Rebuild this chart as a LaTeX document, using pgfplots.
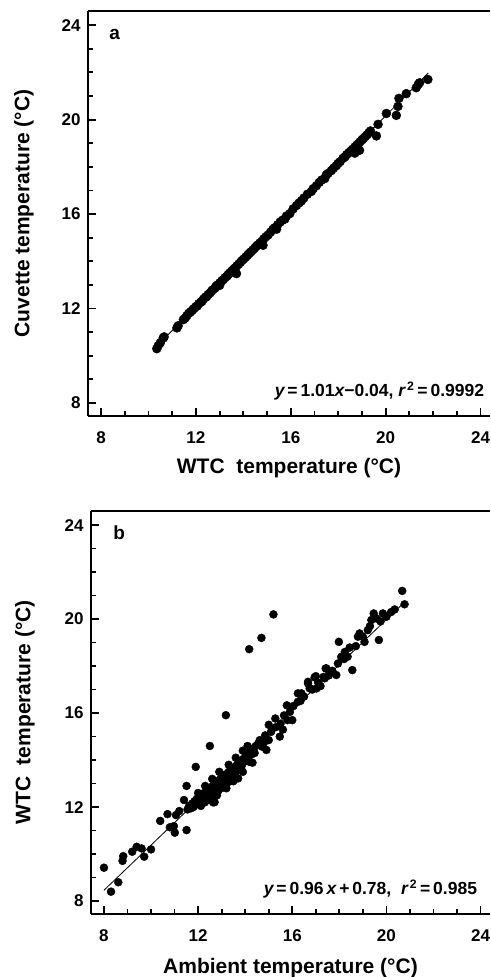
\documentclass[border=0pt]{standalone}
\usepackage{pgfplots}
\pgfplotsset{compat=1.18}
\usepackage{fontspec}
\setmainfont{Liberation Sans}

\pgfplotstableread{
x y
10.35 10.30
10.41 10.42
10.50 10.55
10.62 10.75
10.66 10.80
11.20 11.18
11.25 11.27
11.47 11.53
11.55 11.60
11.62 11.70
11.70 11.80
11.78 11.86
11.85 11.93
11.92 12.00
12.00 12.08
12.05 12.10
12.12 12.20
12.20 12.27
12.25 12.30
12.32 12.40
12.40 12.48
12.45 12.50
12.52 12.60
12.60 12.66
12.66 12.74
12.72 12.80
12.80 12.86
12.85 12.95
12.92 13.00
13.00 12.98
13.00 13.08
13.08 13.16
13.15 13.22
13.22 13.30
13.30 13.36
13.36 13.44
13.42 13.50
13.50 13.58
13.58 13.66
13.65 13.72
13.71 13.48
13.72 13.80
13.80 13.88
13.88 13.96
13.95 14.04
14.02 14.10
14.10 14.18
14.18 14.26
14.25 14.34
14.32 14.40
14.40 14.48
14.48 14.56
14.55 14.64
14.62 14.70
14.70 14.78
14.78 14.84
14.83 14.68
14.86 14.95
14.95 15.04
15.05 15.12
15.15 15.24
15.25 15.36
15.32 15.42
15.40 15.36
15.45 15.55
15.55 15.66
15.65 15.74
15.75 15.79
15.82 15.92
15.96 16.02
16.10 16.22
16.24 16.36
16.35 16.47
16.45 16.56
16.55 16.68
16.70 16.84
16.87 16.96
16.95 17.08
17.08 17.20
17.20 17.34
17.30 17.44
17.43 17.50
17.50 17.66
17.57 17.72
17.71 17.84
17.80 17.94
17.92 18.05
17.99 18.14
18.08 18.22
18.20 18.36
18.28 18.42
18.36 18.52
18.45 18.60
18.52 18.66
18.60 18.74
18.70 18.58
18.70 18.84
18.78 18.92
18.85 18.98
18.90 18.70
18.92 19.06
19.00 19.14
19.06 19.20
19.14 19.28
19.22 19.36
19.30 19.45
19.36 19.52
19.61 19.31
19.68 19.80
20.03 20.26
20.45 20.18
20.52 20.56
20.56 20.90
20.87 21.10
21.29 21.35
21.38 21.50
21.43 21.56
21.78 21.70
}\dataA

\pgfplotstableread{
x y
8.00 9.42
8.30 8.40
8.61 8.80
8.82 9.91
8.79 9.71
9.20 10.10
9.39 10.31
9.60 10.24
9.71 9.89
10.00 10.20
10.39 11.41
10.70 11.70
10.80 11.14
10.97 11.19
11.01 10.91
11.06 11.66
11.20 11.83
11.40 12.30
11.51 11.02
11.51 12.90
11.90 13.71
12.50 14.60
12.70 12.21
13.70 13.22
14.17 13.93
14.17 18.72
14.69 19.20
15.20 20.20
13.18 15.91
14.31 13.89
14.90 14.43
15.47 15.00
15.60 15.30
15.80 15.70
16.00 15.70
15.77 16.33
16.24 16.48
16.24 16.84
16.67 17.33
17.00 17.57
17.03 17.05
17.42 17.90
17.38 17.48
15.28 15.77
15.00 15.50
15.00 14.85
14.72 14.57
14.40 14.30
12.64 12.20
20.67 21.20
20.77 20.63
20.35 20.41
19.85 20.24
19.46 20.24
19.57 20.03
19.36 19.96
19.68 19.11
19.21 19.53
18.86 19.39
18.79 19.25
19.07 19.03
17.98 19.03
18.44 18.79
18.23 18.60
18.08 18.39
17.94 18.11
18.55 17.83
17.87 17.62
17.45 17.90
17.33 17.54
16.95 17.52
16.67 17.26
16.74 17.05
16.39 16.84
16.35 16.52
11.55 11.90
11.62 12.05
11.70 11.95
11.75 12.15
11.80 12.00
11.85 12.25
11.90 12.10
11.95 12.35
12.00 12.20
12.00 12.60
12.02 12.45
12.08 12.30
12.12 12.05
12.15 12.50
12.20 12.35
12.25 12.60
12.28 12.20
12.30 12.90
12.32 12.45
12.38 12.70
12.42 12.55
12.45 12.30
12.50 12.80
12.55 12.62
12.58 12.45
12.60 13.20
12.62 12.90
12.66 12.72
12.70 13.00
12.74 12.55
12.78 12.85
12.80 12.50
12.82 13.10
12.86 12.70
12.90 12.95
12.90 13.50
12.94 13.20
12.98 12.80
13.02 13.05
13.06 13.30
13.10 12.90
13.14 13.15
13.18 13.40
13.20 12.80
13.22 13.00
13.26 13.25
13.30 13.50
13.30 13.80
13.35 13.10
13.40 13.35
13.45 13.60
13.50 13.40
13.50 13.10
13.55 13.70
13.60 13.50
13.60 14.10
13.65 13.80
13.72 13.60
13.78 13.90
13.85 13.75
13.90 13.50
13.90 14.40
13.92 14.05
14.00 13.95
14.05 14.20
14.10 14.60
14.12 14.10
14.20 14.35
14.28 14.25
14.35 14.50
14.45 14.60
14.55 14.70
14.62 14.85
14.80 14.75
14.85 15.05
15.10 15.20
15.30 15.40
15.50 15.55
15.65 15.90
15.90 16.05
16.05 16.30
16.50 16.70
16.85 17.00
17.10 17.30
17.20 17.15
17.55 17.60
17.70 17.80
18.20 18.30
18.35 18.40
18.70 18.85
19.00 19.25
19.30 19.70
19.75 19.90
20.00 20.10
20.20 20.30
}\dataB

\pgfplotsset{
  myax/.style={
    scale only axis,
    xmin=7.45, xmax=24.4, ymin=7.45, ymax=24.6,
    axis x line*=bottom, axis y line*=left,
    axis line style={line width=2.4pt, -},
    xtick={8,12,16,20,24}, ytick={8,12,16,20,24},
    minor xtick={9,10,11,13,14,15,17,18,19,21,22,23},
    minor ytick={9,10,11,13,14,15,17,18,19,21,22,23},
    tick align=inside,
    major tick length=8pt, minor tick length=5pt,
    every tick/.style={line width=1.8pt, black},
    tick label style={font=\bfseries\fontsize{17}{17}\selectfont},
    /pgf/number format/assume math mode=true,
    xticklabel style={yshift=-12pt},
    yticklabel style={xshift=-4pt},
    label style={font=\bfseries\fontsize{21}{21}\selectfont},
  }
}

\begin{document}
\begin{tikzpicture}
\useasboundingbox (0pt,0pt) rectangle (490pt,977pt);
% panel a
\begin{axis}[myax, at={(88pt,561pt)}, anchor=south west, width=402pt, height=405pt,
  xlabel={WTC\ \ temperature (°C)}, ylabel={Cuvette temperature (°C)},
  xlabel style={at={(axis description cs:0.5,0)}, anchor=center, yshift=-52pt},
  ylabel style={at={(axis description cs:0,0.5)}, anchor=center, yshift=64pt}]
\addplot[black, line width=0.8pt] coordinates {(10.3,10.36) (21.8,21.98)};
\addplot[only marks, mark=*, mark size=4.5pt, black] table[x=x,y=y] {\dataA};
\draw[line width=2.2pt] (rel axis cs:0,1) -- (rel axis cs:1,1);
\node[anchor=west, font=\bfseries\fontsize{19}{19}\selectfont] at (axis cs:8.2,23.62) {a};
\node[anchor=base east, font=\bfseries\fontsize{17.5}{17.5}\selectfont] at (axis cs:24.3,8.26)
  {\itshape y\upshape\,=\,1.01\itshape x\upshape−0.04, \itshape r\upshape\textsuperscript{\,2}\,=\,0.9992};
\end{axis}
% panel b
\begin{axis}[myax, at={(91pt,63pt)}, anchor=south west, width=399pt, height=403pt,
  xlabel={Ambient temperature (°C)}, ylabel={WTC\ \ temperature (°C)},
  xlabel style={at={(axis description cs:0.5,0)}, anchor=center, yshift=-54pt},
  ylabel style={at={(axis description cs:0,0.5)}, anchor=center, yshift=66pt}]
\addplot[black, line width=0.8pt] coordinates {(8.0,8.46) (20.8,20.75)};
\addplot[only marks, mark=*, mark size=4.0pt, black] table[x=x,y=y] {\dataB};
\draw[line width=2.2pt] (rel axis cs:0,1) -- (rel axis cs:1,1);
\node[anchor=west, font=\bfseries\fontsize{19}{19}\selectfont] at (axis cs:8.25,23.66) {b};
\node[anchor=base east, font=\bfseries\fontsize{17.5}{17.5}\selectfont] at (axis cs:24.0,8.26)
  {\itshape y\upshape\,=\,0.96\,\itshape x\upshape\,+\,0.78, \ \itshape r\upshape\textsuperscript{\,2}\,=\,0.985};
\end{axis}
\end{tikzpicture}
\end{document}
